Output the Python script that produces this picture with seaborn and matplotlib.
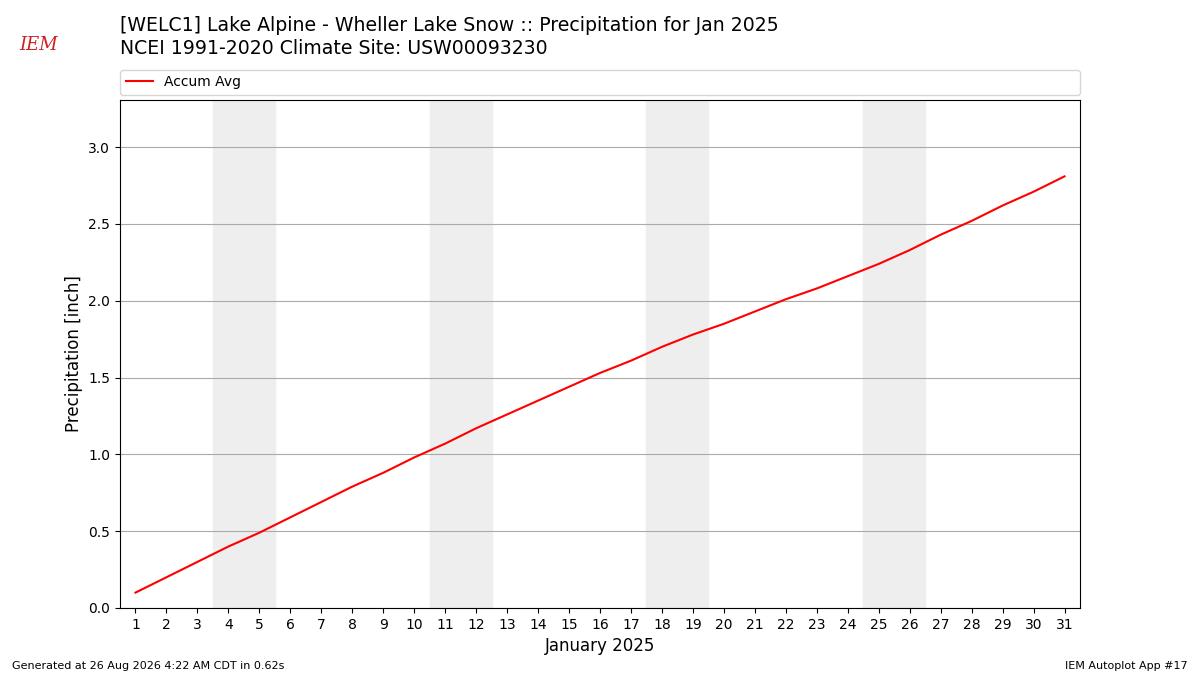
import numpy as np
import pandas as pd
import seaborn as sns
import matplotlib.pyplot as plt

# Jan 2025 daily accumulated climatological precip (inch)
days = list(range(1, 32))
accum_avg = [0.10, 0.20, 0.30, 0.40, 0.49, 0.59, 0.69, 0.79, 0.88, 0.98,
             1.07, 1.17, 1.26, 1.35, 1.44, 1.53, 1.61, 1.70, 1.78, 1.85,
             1.93, 2.01, 2.08, 2.16, 2.24, 2.33, 2.43, 2.52, 2.62, 2.71,
             2.81]
weekends = [(4, 5), (11, 12), (18, 19), (25, 26)]

df = pd.DataFrame({"day": days, "precip": accum_avg})

fig = plt.figure(figsize=(12, 6.75), dpi=100)
ax = fig.add_axes([0.1, 0.0993, 0.8, 0.7526])

for a, b in weekends:
    ax.axvspan(a - 0.5, b + 0.5, color="#eeeeee", zorder=0)

sns.lineplot(data=df, x="day", y="precip", color="red", lw=1.5,
             label="Accum Avg", ax=ax)

ax.set_xlim(0.5, 31.5)
ax.set_ylim(0, max(accum_avg) * 1.177)
ax.set_xticks(days)
ax.set_yticks(np.arange(0, 3.01, 0.5))
ax.set_yticklabels([f"{v:.1f}" for v in np.arange(0, 3.01, 0.5)])
ax.grid(axis="y", color="#aaaaaa", lw=0.8)
ax.set_axisbelow(True)
ax.set_xlabel("January 2025", fontsize=12)
ax.set_ylabel("Precipitation [inch]", fontsize=12)

ax.legend(loc="lower left", bbox_to_anchor=(0, 1.01, 1, 0.05), mode="expand",
          ncol=1, fontsize=10, borderaxespad=0, frameon=True)

fig.text(0.1, 0.977, "[WELC1] Lake Alpine - Wheller Lake Snow :: Precipitation for Jan 2025",
         fontsize=13.6, va="top")
fig.text(0.1, 0.942, "NCEI 1991-2020 Climate Site: USW00093230",
         fontsize=13.6, va="top")

# logo stand-in
fig.text(0.032, 0.933, "IEM", fontsize=13, color="#cc2222", style="italic",
         family="DejaVu Serif", ha="center", va="center")

fig.text(0.01, 0.009, "Generated at 26 Aug 2026 4:22 AM CDT in 0.62s", fontsize=8)
fig.text(0.99, 0.009, "IEM Autoplot App #17", fontsize=8, ha="right")

fig.savefig("out.png", dpi=100)
